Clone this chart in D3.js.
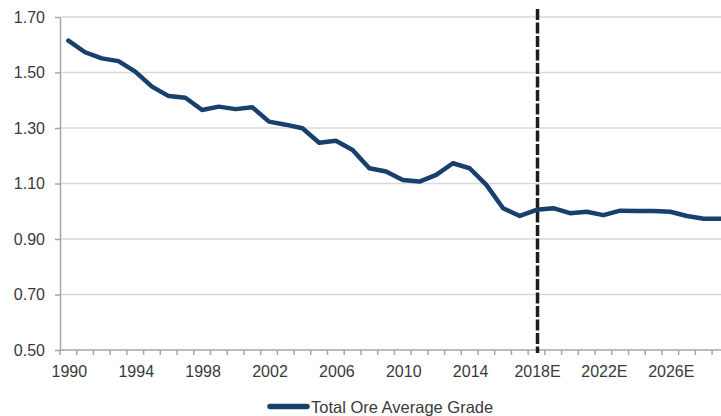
<!DOCTYPE html>
<html>
<head>
<meta charset="utf-8">
<script src="https://cdn.jsdelivr.net/npm/d3@7"></script>
<style>
  html, body { margin: 0; padding: 0; background: #fff; }
  svg { display: block; }
  text { font-family: "Liberation Sans", Arial, sans-serif; fill: #3a3a3a; }
</style>
</head>
<body>
<svg id="chart" width="721" height="416"></svg>
<script>
// ---- data ----
const years = [
  "1990","1991","1992","1993","1994","1995","1996","1997","1998","1999",
  "2000","2001","2002","2003","2004","2005","2006","2007","2008","2009",
  "2010","2011","2012","2013","2014","2015","2016","2017","2018E","2019E",
  "2020E","2021E","2022E","2023E","2024E","2025E","2026E","2027E","2028E","2029E"
];
const grade = [
  1.615, 1.573, 1.551, 1.541, 1.503, 1.449, 1.415, 1.409, 1.365, 1.377,
  1.368, 1.375, 1.323, 1.312, 1.299, 1.247, 1.254, 1.221, 1.155, 1.143,
  1.113, 1.107, 1.131, 1.173, 1.155, 1.095, 1.011, 0.983, 1.005, 1.011,
  0.993, 0.998, 0.986, 1.002, 1.001, 1.001, 0.998, 0.983, 0.973, 0.973
];
const xTickLabels = ["1990","1994","1998","2002","2006","2010","2014","2018E","2022E","2026E"];
const yTicks = [0.50, 0.70, 0.90, 1.10, 1.30, 1.50, 1.70];
const forecastStart = "2018E";
const seriesName = "Total Ore Average Grade";

(function () {
  const svg = d3.select("#chart");
  const mLeft = 60, mTop = 17, mBottom = 350;
  const step = 16.72;
  const x = d3.scaleBand().domain(years).range([mLeft, mLeft + step * years.length]).padding(0);
  const y = d3.scaleLinear().domain([0.5, 1.7]).range([mBottom, mTop]);

  const gridColor = "#d9d9d9", axisColor = "#a6a6a6";

  // gridlines
  svg.append("g").selectAll("line").data(yTicks.filter(d => d > 0.5)).join("line")
    .attr("x1", mLeft).attr("x2", 721)
    .attr("y1", d => y(d)).attr("y2", d => y(d))
    .attr("stroke", gridColor).attr("stroke-width", 1.5);

  // y axis
  const yAxis = d3.axisLeft(y).tickValues(yTicks).tickFormat(d3.format(".2f"))
    .tickSizeInner(5).tickSizeOuter(0).tickPadding(10);
  const gy = svg.append("g").attr("transform", `translate(${mLeft},0)`).call(yAxis);
  gy.select(".domain").attr("stroke", axisColor).attr("stroke-width", 1.5);
  gy.selectAll(".tick line").attr("stroke", axisColor).attr("stroke-width", 1.5);
  gy.selectAll(".tick text").attr("font-size", 16).attr("fill", "#3a3a3a")
    .style("font-family", "'Liberation Sans', Arial, sans-serif");

  // x axis
  svg.append("line").attr("x1", mLeft).attr("x2", 721).attr("y1", mBottom).attr("y2", mBottom)
    .attr("stroke", axisColor).attr("stroke-width", 1.5);
  const boundaries = years.map(d => x(d)).concat([x(years[years.length - 1]) + x.bandwidth()]);
  svg.append("g").selectAll("line").data(boundaries).join("line")
    .attr("x1", d => d).attr("x2", d => d).attr("y1", mBottom).attr("y2", mBottom + 5)
    .attr("stroke", axisColor).attr("stroke-width", 1.5);
  svg.append("g").selectAll("text").data(xTickLabels).join("text")
    .attr("x", d => x(d) + x.bandwidth() / 2 + 1)
    .attr("y", 377)
    .attr("text-anchor", "middle")
    .attr("font-size", 16)
    .text(d => d);

  // forecast divider
  const fx = x(forecastStart) + x.bandwidth() / 2 + 1;
  svg.append("line").attr("x1", fx).attr("x2", fx).attr("y1", 9).attr("y2", mBottom + 3)
    .attr("stroke", "#1e1e1e").attr("stroke-width", 3.5).attr("stroke-dasharray", "11,2.5");

  // series line
  const lineColor = "#17406d";
  const line = d3.line()
    .x((d, i) => x(years[i]) + x.bandwidth() / 2)
    .y(d => y(d));
  svg.append("path").datum(grade).attr("d", line)
    .attr("fill", "none").attr("stroke", lineColor).attr("stroke-width", 4.5)
    .attr("stroke-linejoin", "round").attr("stroke-linecap", "round");

  // legend
  svg.append("line").attr("x1", 270).attr("x2", 307).attr("y1", 406.5).attr("y2", 406.5)
    .attr("stroke", lineColor).attr("stroke-width", 5.5).attr("stroke-linecap", "round");
  svg.append("text").attr("x", 311).attr("y", 412.5).attr("font-size", 16.5).text(seriesName);
})();
</script>
</body>
</html>
